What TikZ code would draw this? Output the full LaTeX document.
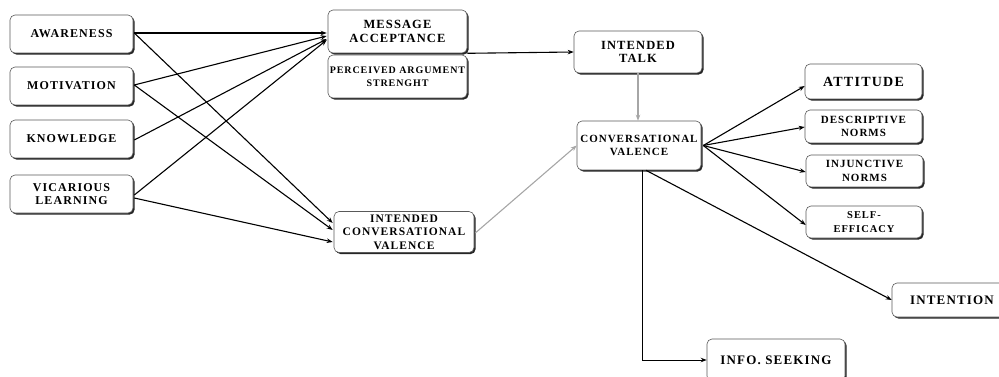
\documentclass[tikz,border=0pt]{standalone}
\usepackage{fontspec}
\newfontfamily\bx[LetterSpace=9]{Liberation Serif}
\usetikzlibrary{arrows.meta,shadows,calc}
\begin{document}
\begin{tikzpicture}[x=1pt,y=-1pt,
  box/.style={draw=black!65, line width=0.6pt, rounded corners=5pt, fill=white, align=center, inner sep=0pt,
    drop shadow={shadow xshift=1.6pt, shadow yshift=-1.6pt, fill=black!85, opacity=1}},
  arr/.style={-{Stealth[length=6pt,width=4.5pt]}, line width=1.1pt},
  garr/.style={arr, draw=black!35},
  fs/.style={font=\bx\bfseries\fontsize{#1}{13.5}\selectfont}]
\useasboundingbox (0,0) rectangle (999,377);

% left column
\node[box, fs=12, minimum width=123pt, minimum height=38pt] (aw) at (71.5,34) {AWARENESS};
\node[box, fs=12, minimum width=123pt, minimum height=38pt] (mo) at (71.5,86) {MOTIVATION};
\node[box, fs=12, minimum width=123pt, minimum height=38pt] (kn) at (71.5,139) {KNOWLEDGE};
\node[box, fs=12, minimum width=123pt, minimum height=38pt] (vl) at (71.5,194) {VICARIOUS\\LEARNING};

% middle column
\node[box, fs=12.5, minimum width=139pt, minimum height=43pt] (ma) at (397.5,31.5) {MESSAGE\\ACCEPTANCE};
\node[box, fs=10, minimum width=139pt, minimum height=43pt] (pas) at (397.5,76.5) {PERCEIVED ARGUMENT\\STRENGHT};
\node[box, fs=11.5, minimum width=140pt, minimum height=41pt] (icv) at (404,232) {INTENDED\\CONVERSATIONAL\\VALENCE};

% centre
\node[box, fs=12.5, minimum width=128pt, minimum height=42pt] (it) at (638,52) {INTENDED\\TALK};
\node[box, fs=11, minimum width=124pt, minimum height=49pt] (cv) at (639,145.5) {CONVERSATIONAL\\VALENCE};

% right column
\node[box, fs=14, minimum width=117pt, minimum height=35pt] (att) at (863.5,81.5) {ATTITUDE};
\node[box, fs=11, minimum width=117pt, minimum height=33pt] (dn) at (863.5,126.5) {DESCRIPTIVE\\NORMS};
\node[box, fs=11, minimum width=117pt, minimum height=32pt] (inj) at (864.5,171) {INJUNCTIVE\\NORMS};
\node[box, fs=10.5, minimum width=116pt, minimum height=32pt] (se) at (864,222) {SELF-\\EFFICACY};
\node[box, fs=13, minimum width=120pt, minimum height=34pt] (int) at (952,300) {INTENTION};
\node[box, fs=13, minimum width=138pt, minimum height=42pt] (info) at (776,360) {INFO. SEEKING};

% arrows to message acceptance
\draw[arr] ($(aw.east)+(1,-1)$) -- ($(ma.west)+(-1,1.5)$);
\draw[arr] ($(mo.east)+(1,-1)$) -- ($(ma.west)+(-1,4.5)$);
\draw[arr] ($(kn.east)+(1,1)$) -- ($(ma.west)+(-1,7.5)$);
\draw[arr] ($(vl.east)+(1,1)$) -- ($(ma.west)+(-1,8.5)$);

% arrows to intended conversational valence
\draw[arr] ($(aw.east)+(1,-1)$) -- ($(icv.west)+(-1,-9)$);
\draw[arr] ($(mo.east)+(1,-1)$) -- ($(icv.west)+(-1,-2)$);
\draw[arr] ($(vl.east)+(1,4)$) -- ($(icv.west)+(-1,10)$);

% message acceptance to intended talk
\draw[arr] (ma.south east) -- (it.west);

% grey arrows
\draw[garr] (it.south) -- (it.south |- cv.north);
\draw[garr] ($(icv.east)+(1,1)$) -- (cv.west);

% fan from conversational valence
\draw[arr] ($(cv.east)+(2,0)$) -- ($(att.west)+(0,4.5)$);
\draw[arr] ($(cv.east)+(2,0)$) -- ($(dn.west)+(0,0.5)$);
\draw[arr] ($(cv.east)+(2,0)$) -- ($(inj.west)+(0,1)$);
\draw[arr] ($(cv.east)+(2,0)$) -- ($(se.west)+(0,3)$);

\draw[arr] ($(cv.south)+(7,0)$) -- (int.west);
\draw[arr, line width=1pt] ($(cv.south)+(3.8,0)$) |- (info.west);
\end{tikzpicture}
\end{document}
